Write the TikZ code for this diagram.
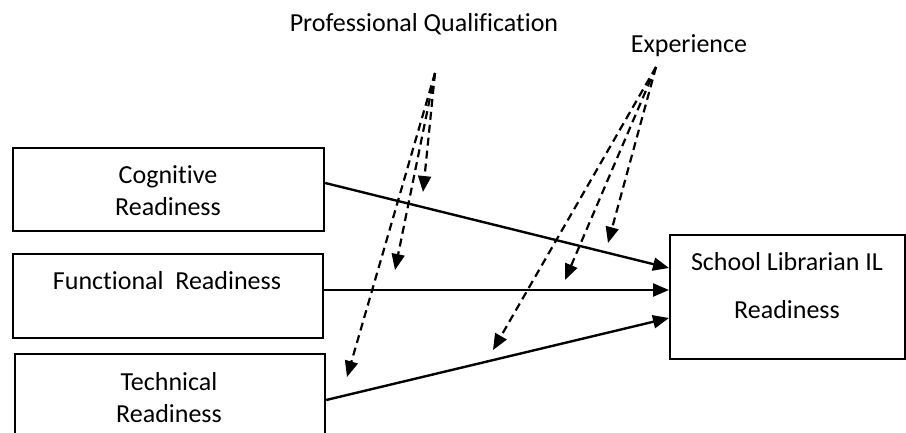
\documentclass[tikz,border=0pt]{standalone}
\usepackage{fontspec}
\setmainfont{Carlito}[Ligatures={NoCommon}]
\usetikzlibrary{arrows.meta}
\begin{document}
\begin{tikzpicture}[x=1pt,y=-1pt,
  box/.style={draw=black,line width=2.2pt,rectangle,inner sep=0pt,anchor=north west},
  txt/.style={font=\fontsize{26}{32}\selectfont,align=center,inner sep=0pt},
  arr/.style={line width=2.4pt,-{Triangle[length=16pt,width=13pt]}},
  darr/.style={line width=2.2pt,dash pattern=on 8pt off 5pt,-{Triangle[length=16pt,width=13pt]}}]
\useasboundingbox[fill=white] (0,0) rectangle (906,432);
% boxes
\node[box,minimum width=311pt,minimum height=83pt] (cog) at (12,147) {};
\node[box,minimum width=310pt,minimum height=84pt] (fun) at (12,253) {};
\node[box,minimum width=310pt,minimum height=88pt] (tec) at (14,353) {};
\node[box,minimum width=235pt,minimum height=124pt] (slr) at (669,234) {};
% texts
\node[txt] (cogt) at (168,191) {Cognitive\\Readiness};
\node[txt] (funt) at (167,281) {Functional\ \ Readiness};
\node[txt] (tect) at (169,398) {Technical\\Readiness};
\node[txt] (slrt1) at (787,262) {School Librarian IL};
\node[txt] (slrt2) at (787,310) {Readiness};
\node[txt] (pq) at (424,24) {Professional Qualification};
\node[txt] (exp) at (689,46) {Experience};
% origins
\coordinate (pqo) at (435,73);
\coordinate (expo) at (656,67);
\coordinate (pq1) at (423,192);
\coordinate (pq2) at (395,270);
\coordinate (pq3) at (347,377);
\coordinate (ex1) at (608,243);
\coordinate (ex2) at (565,280);
\coordinate (ex3) at (493,350);
% solid arrows
\draw[arr] (cog.east |- 0,183) -- (slr.west |- 0,268);
\draw[arr] (fun.east |- 0,290) -- (slr.west |- 0,290);
\draw[arr] (tec.east |- 0,400) -- (slr.west |- 0,318);
% dashed arrows
\draw[darr] (pqo) -- (pq1);
\draw[darr] (pqo) -- (pq2);
\draw[darr] (pqo) -- (pq3);
\draw[darr] (expo) -- (ex1);
\draw[darr] (expo) -- (ex2);
\draw[darr] (expo) -- (ex3);
\end{tikzpicture}
\end{document}
